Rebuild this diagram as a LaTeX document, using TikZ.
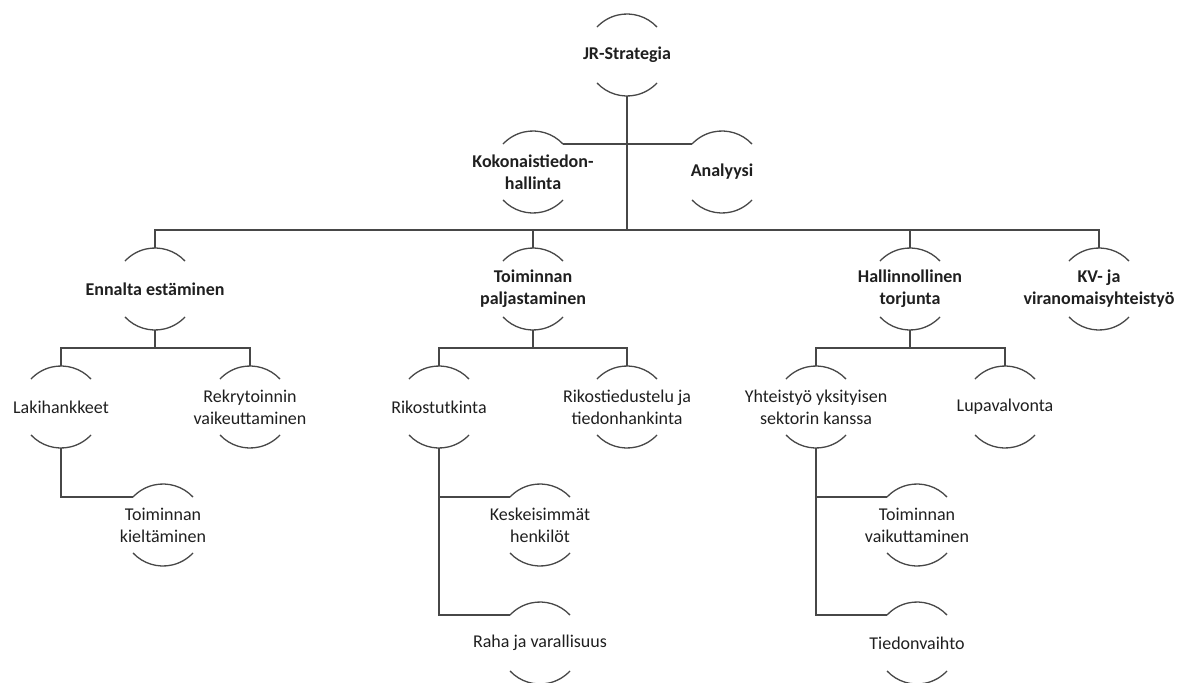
\documentclass[tikz,border=0pt]{standalone}
\usepackage{fontspec}
\setmainfont{Carlito}
\begin{document}
\begin{tikzpicture}[x=1pt,y=1pt,
  wire/.style={draw=black!72,line width=1.3pt},
  rim/.style={draw=black!72,line width=1.3pt},
  label/.style={inner sep=0pt,align=center,text=black!88,
    font=\fontsize{18}{22}\selectfont},
  head/.style={label,font=\fontsize{18}{22}\selectfont\bfseries}]
\useasboundingbox (0,0) rectangle (1190,-682);
\clip (0,0) rectangle (1190,-682);

% a labelled disc: text in the middle, an arc above and an arc below
\newcommand\disc[5]{%
  \node[#4] (#1) at (#2,#3) {#5};
  \coordinate (#1-t) at ([yshift=41pt]#1.center);
  \coordinate (#1-b) at ([yshift=-41pt]#1.center);
  \coordinate (#1-l) at ([shift={(137:41pt)}]#1.center);
  \coordinate (#1-r) at ([shift={(43:41pt)}]#1.center);
  \draw[rim] (#1-r) arc[start angle=43,end angle=137,radius=41pt];
  \draw[rim] ([shift={(223:41pt)}]#1.center) arc[start angle=223,end angle=317,radius=41pt];
}

% top level and its assistants
\disc{jr}{627}{-55}{head}{JR-Strategia}
\disc{kok}{533}{-172}{head}{Kokonaistiedon-\\hallinta}
\disc{ana}{722}{-172}{head}{Analyysi}

% second level
\disc{enn}{155}{-289}{head}{Ennalta estäminen}
\disc{tpa}{533}{-289}{head}{Toiminnan\\paljastaminen}
\disc{hal}{910}{-289}{head}{Hallinnollinen\\torjunta}
\disc{kv}{1099}{-289}{head}{KV- ja\\viranomaisyhteistyö}

% third level
\disc{lak}{61}{-407}{label}{Lakihankkeet}
\disc{rek}{250}{-407}{label}{Rekrytoinnin\\vaikeuttaminen}
\disc{rik}{439}{-407}{label}{Rikostutkinta}
\disc{rti}{627}{-407}{label}{Rikostiedustelu ja\\tiedonhankinta}
\disc{yht}{816}{-407}{label}{Yhteistyö yksityisen\\sektorin kanssa}
\disc{lup}{1005}{-407}{label}{Lupavalvonta}

% hanging children
\disc{tki}{163}{-525}{label}{Toiminnan\\kieltäminen}
\disc{kes}{540}{-525}{label}{Keskeisimmät\\henkilöt}
\disc{rah}{540}{-643}{label}{Raha ja varallisuus}
\disc{tva}{917}{-525}{label}{Toiminnan\\vaikuttaminen}
\disc{tie}{917}{-643}{label}{Tiedonvaihto}

% bus lines
\coordinate (bus1) at (0,-230);
\coordinate (bus2) at (0,-348);

% connectors
\draw[wire] (jr-b) -- (jr-b |- bus1);
\draw[wire] (kok-r) -- (ana-l);
\draw[wire] (enn-t) -- (enn-t |- bus1) -- (kv-t |- bus1) -- (kv-t);
\draw[wire] (tpa-t) -- (tpa-t |- bus1);
\draw[wire] (hal-t) -- (hal-t |- bus1);

\draw[wire] (enn-b) -- (enn-b |- bus2);
\draw[wire] (lak-t) -- (lak-t |- bus2) -- (rek-t |- bus2) -- (rek-t);
\draw[wire] (tpa-b) -- (tpa-b |- bus2);
\draw[wire] (rik-t) -- (rik-t |- bus2) -- (rti-t |- bus2) -- (rti-t);
\draw[wire] (hal-b) -- (hal-b |- bus2);
\draw[wire] (yht-t) -- (yht-t |- bus2) -- (lup-t |- bus2) -- (lup-t);

\draw[wire] (lak-b) -- (lak-b |- tki-l) -- (tki-l);
\draw[wire] (rik-b) -- (rik-b |- rah-l) -- (rah-l);
\draw[wire] (rik-b |- kes-l) -- (kes-l);
\draw[wire] (yht-b) -- (yht-b |- tie-l) -- (tie-l);
\draw[wire] (yht-b |- tva-l) -- (tva-l);
\end{tikzpicture}
\end{document}
